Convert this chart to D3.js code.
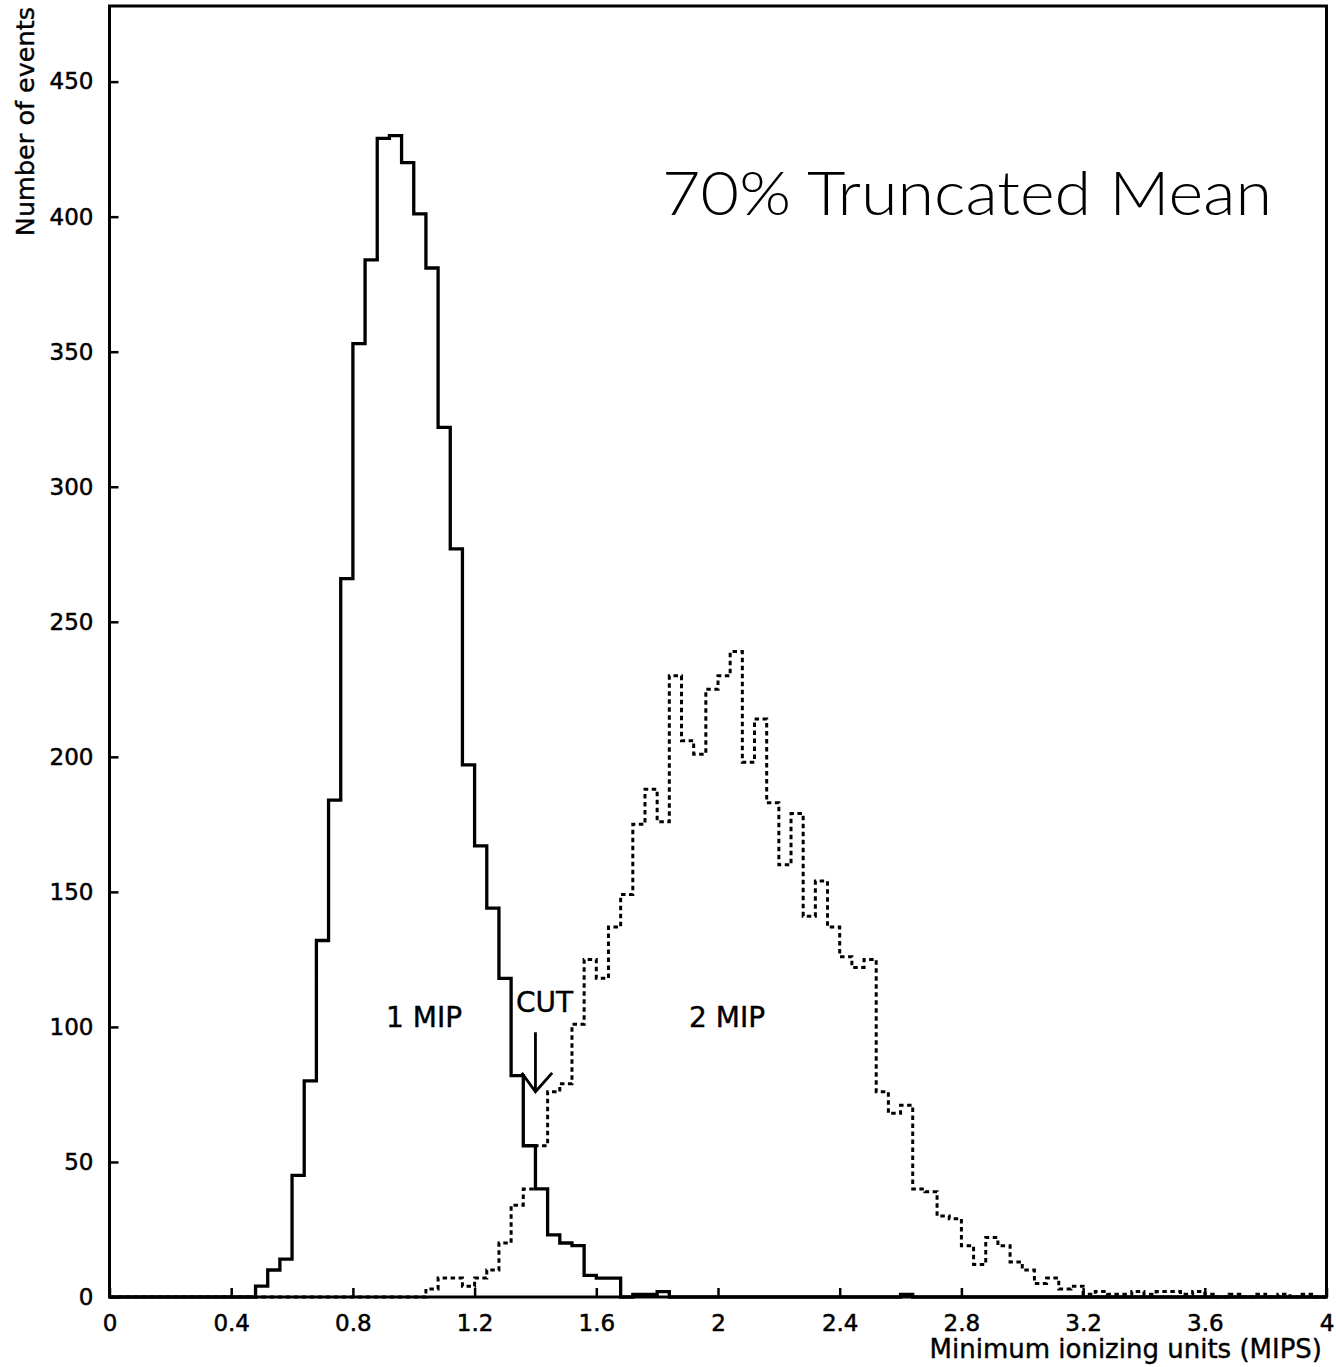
<!DOCTYPE html>
<html>
<head>
<meta charset="utf-8">
<script src="https://cdn.jsdelivr.net/npm/d3@7"></script>
<style>
  body { margin: 0; background: #fff; }
  svg { display: block; }
  .tick text { font-family: "DejaVu Sans", sans-serif; font-size: 23px; fill: #000; stroke: #000; stroke-width: 0.5; }
  .tick line { stroke: #000; stroke-width: 2.5; }
  .txt { font-family: "DejaVu Sans", sans-serif; fill: #000; stroke: #000; stroke-width: 0.4; }
</style>
</head>
<body>
<div class="chart"></div>
<script>
// histogram bins: 100 bins of width 0.04 MIPS from 0 to 4
var binWidth = 0.04;

// 1 MIP sample (solid line)
var oneMip = [
  0, 0, 0, 0, 0, 0, 0, 0, 0, 0,
  0, 0, 4, 10, 14, 45, 80, 132, 184, 266,
  353, 384, 429, 430, 420, 401, 381, 322, 277, 197,
  167, 144, 118, 82, 56, 40, 23, 20, 19, 8,
  7, 7, 0, 1, 1, 2, 0, 0, 0, 0,
  0, 0, 0, 0, 0, 0, 0, 0, 0, 0,
  0, 0, 0, 0, 0, 1, 0, 0, 0, 0,
  0, 0, 0, 0, 0, 0, 0, 0, 0, 0,
  0, 0, 0, 0, 0, 0, 0, 0, 0, 0,
  0, 0, 0, 0, 0, 0, 0, 0, 0, 0
];

// 2 MIP sample (dashed line)
var twoMip = [
  0, 0, 0, 0, 0, 0, 0, 0, 0, 0,
  0, 0, 0, 0, 0, 0, 0, 0, 0, 0,
  0, 0, 0, 0, 0, 0, 3, 7, 7, 4,
  7, 10, 20, 34, 40, 56, 76, 79, 101, 125,
  118, 137, 149, 175, 188, 176, 230, 206, 201, 225,
  230, 239, 198, 214, 183, 160, 179, 141, 154, 137,
  126, 122, 125, 76, 68, 71, 40, 39, 30, 29,
  19, 12, 22, 19, 13, 10, 5, 7, 3, 4,
  1, 2, 1, 1, 2, 1, 2, 2, 1, 2,
  1, 0, 1, 0, 1, 0, 1, 0, 1, 0
];

var xTicks = [0, 0.4, 0.8, 1.2, 1.6, 2, 2.4, 2.8, 3.2, 3.6, 4];
var yTicks = [0, 50, 100, 150, 200, 250, 300, 350, 400, 450];

// text labels placed in data coordinates
var labels = [
  { text: "1 MIP", x: 1.034, y: 100 },
  { text: "2 MIP", x: 2.03, y: 100 },
  { text: "CUT", x: 1.43, y: 105.5 }
];
var cutX = 1.40;

var width = 1336, height = 1367;
var x0 = 109.5, x1 = 1326.5, yTop = 6, yBottom = 1297;

var svg = d3.select(".chart").append("svg")
    .attr("width", width)
    .attr("height", height);

var x = d3.scaleLinear().domain([0, 4]).range([x0, x1]);
var y = d3.scaleLinear().domain([0, 478]).range([yBottom, yTop]);

//axes with inward ticks, frame drawn separately
svg.append("g")
    .attr("transform", "translate(0," + yBottom + ")")
    .call(d3.axisBottom(x).tickValues(xTicks).tickSizeInner(-9).tickSizeOuter(0).tickPadding(18)
        .tickFormat(function(d) { return d3.format("~g")(d); }))
    .call(function(g) { g.select(".domain").remove(); });

svg.append("g")
    .attr("transform", "translate(" + x0 + ",0)")
    .call(d3.axisLeft(y).tickValues(yTicks).tickSizeInner(-9).tickSizeOuter(0).tickPadding(16))
    .call(function(g) { g.select(".domain").remove(); });

//frame
svg.append("rect")
    .attr("x", x0).attr("y", yTop)
    .attr("width", x1 - x0).attr("height", yBottom - yTop)
    .attr("fill", "none").attr("stroke", "#000").attr("stroke-width", 3);

//turn bin counts into step points
function steps(values) {
  var pts = [];
  values.forEach(function(v, i) {
    pts.push([i * binWidth, v]);
    pts.push([(i + 1) * binWidth, v]);
  });
  return pts;
}

var line = d3.line()
    .x(function(d) { return x(d[0]); })
    .y(function(d) { return y(d[1]); });

svg.append("path")
    .attr("d", line(steps(twoMip)))
    .attr("fill", "none")
    .attr("stroke", "#000")
    .attr("stroke-width", 3)
    .attr("stroke-dasharray", "4.5,3.5");

svg.append("path")
    .attr("d", line(steps(oneMip)))
    .attr("fill", "none")
    .attr("stroke", "#000")
    .attr("stroke-width", 3.3);

//cut arrow
svg.append("path")
    .attr("d", line([[cutX, 98], [cutX, 76]]) + "M" + x(cutX - 0.045) + "," + y(83) +
        "L" + x(cutX) + "," + y(76) + "L" + x(cutX + 0.055) + "," + y(83))
    .attr("fill", "none")
    .attr("stroke", "#000")
    .attr("stroke-width", 2.8);

svg.selectAll(".lbl")
    .data(labels)
    .enter()
    .append("text")
        .attr("class", "lbl txt")
        .attr("x", function(d) { return x(d.x); })
        .attr("y", function(d) { return y(d.y); })
        .attr("text-anchor", "middle")
        .style("font-size", "28px")
        .text(function(d) { return d.text; });

//title
svg.append("text")
    .attr("x", 662)
    .attr("y", 215)
    .attr("textLength", 610)
    .attr("lengthAdjust", "spacingAndGlyphs")
    .style("font-family", "Lato, DejaVu Sans, sans-serif")
    .style("font-weight", 300)
    .style("font-size", "62px")
    .text("70% Truncated Mean");

//axis titles
svg.append("text")
    .attr("class", "txt")
    .attr("x", 1322)
    .attr("y", 1358)
    .attr("text-anchor", "end")
    .style("font-size", "26px")
    .text("Minimum ionizing units (MIPS)");

svg.append("text")
    .attr("class", "txt")
    .attr("transform", "translate(34,7) rotate(-90)")
    .attr("text-anchor", "end")
    .style("font-size", "25.5px")
    .text("Number of events");
</script>
</body>
</html>
